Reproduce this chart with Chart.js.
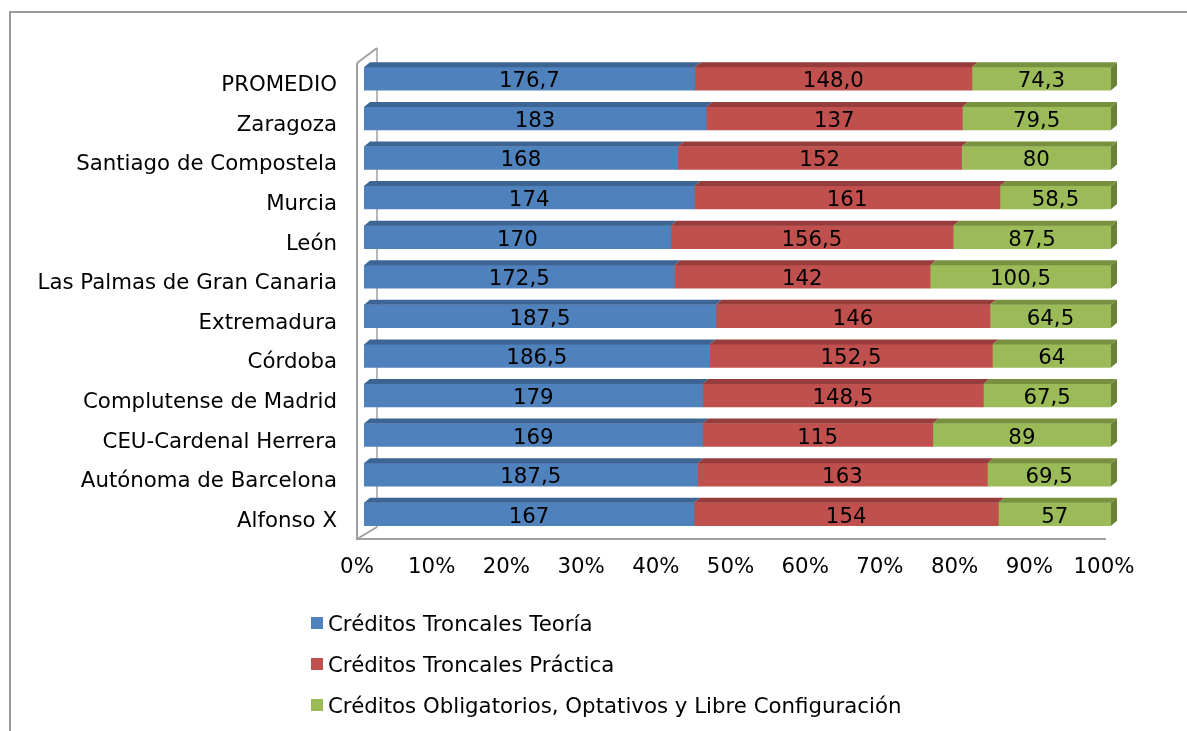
<!DOCTYPE html>
<html>
<head>
<meta charset="utf-8">
<script src="https://cdn.jsdelivr.net/npm/chart.js@4/dist/chart.umd.min.js"></script>
<style>
  html, body { margin: 0; padding: 0; background: #fff; }
  #wrap { position: relative; width: 1187px; height: 731px; overflow: hidden; }
  #frame { position: absolute; left: 9px; top: 11px; width: 1300px; height: 800px;
           border-left: 2px solid #9a9a9a; border-top: 2px solid #9a9a9a; }
  #legend { position: absolute; left: 311px; top: 603px; font: 21.3px "DejaVu Sans", Verdana, sans-serif; color: #000; }
  #legend div { height: 41px; line-height: 41px; white-space: nowrap; }
  #legend span.box { display: inline-block; width: 12px; height: 12px; margin-right: 5px; vertical-align: middle; position: relative; top: -2px; }
</style>
</head>
<body>
<div id="wrap">
  <div id="frame"></div>
  <canvas id="chart" width="1187" height="731"></canvas>
  <div id="legend"></div>
</div>
<script>
// ---- Data ----
const categories = [
  'PROMEDIO', 'Zaragoza', 'Santiago de Compostela', 'Murcia', 'León',
  'Las Palmas de Gran Canaria', 'Extremadura', 'Córdoba', 'Complutense de Madrid',
  'CEU-Cardenal Herrera', 'Autónoma de Barcelona', 'Alfonso X'
];
const teoria       = [176.7, 183, 168, 174, 170, 172.5, 187.5, 186.5, 179, 169, 187.5, 167];
const practica     = [148.0, 137, 152, 161, 156.5, 142, 146, 152.5, 148.5, 115, 163, 154];
const obligatorios = [74.3, 79.5, 80, 58.5, 87.5, 100.5, 64.5, 64, 67.5, 89, 69.5, 57];
const seriesNames = [
  'Créditos Troncales Teoría',
  'Créditos Troncales Práctica',
  'Créditos Obligatorios, Optativos y Libre Configuración'
];
const xTicks = [0, 10, 20, 30, 40, 50, 60, 70, 80, 90, 100];

// ---- Style ----
const FONT = '"DejaVu Sans", Verdana, sans-serif';
const FONT_SIZE = 21.3;
const colors = ['#4F81BD', '#C0504D', '#9BBB59'];
const topColors = ['#3D6594', '#963C3A', '#77913F'];
const sideColors = ['#34567F', '#7E3230', '#6A8238'];
const DX = 6, DY = 5; // 3D depth of the bars

const raw = [teoria, practica, obligatorios];
const totals = categories.map((_, i) => teoria[i] + practica[i] + obligatorios[i]);
const pct = arr => arr.map((v, i) => v / totals[i] * 100);

function fmt(v, i) {
  // PROMEDIO shows one fixed decimal, others as-is
  const s = categories[i] === 'PROMEDIO' ? v.toFixed(1) : String(v);
  return s.replace('.', ',');
}

// ---- Plugins ----

// Walls/floor outline of the 3D plot
const wallsPlugin = {
  id: 'walls',
  beforeDatasetsDraw(chart) {
    const { ctx, chartArea: a } = chart;
    const fl = a.left - 7, bl = fl + 20;
    const fy = a.bottom + 5, by = fy - 12;
    const ty = a.top + 4, bty = ty - 15;
    ctx.save();
    ctx.strokeStyle = '#a0a0a0';
    ctx.lineWidth = 2;
    ctx.beginPath();
    ctx.moveTo(fl, ty); ctx.lineTo(fl, fy); ctx.lineTo(a.right - 5, fy);
    ctx.moveTo(fl, ty); ctx.lineTo(bl, bty);
    ctx.moveTo(fl, fy); ctx.lineTo(bl, by);
    ctx.stroke();
    ctx.lineWidth = 1.5;
    ctx.beginPath();
    ctx.moveTo(bl, bty); ctx.lineTo(bl, by);
    ctx.stroke();
    ctx.restore();
  }
};

// Top and side faces of each bar, then the value labels
const bar3dPlugin = {
  id: 'bar3d',
  afterDatasetsDraw(chart) {
    const { ctx } = chart;
    ctx.save();
    chart.data.datasets.forEach((ds, di) => {
      const meta = chart.getDatasetMeta(di);
      meta.data.forEach(bar => {
        const x0 = bar.base, x1 = bar.x, top = bar.y - bar.height / 2, bot = bar.y + bar.height / 2;
        ctx.fillStyle = topColors[di];
        ctx.beginPath();
        ctx.moveTo(x0, top); ctx.lineTo(x0 + DX, top - DY);
        ctx.lineTo(x1 + DX, top - DY); ctx.lineTo(x1, top);
        ctx.closePath(); ctx.fill();
        if (di === chart.data.datasets.length - 1) {
          ctx.fillStyle = sideColors[di];
          ctx.beginPath();
          ctx.moveTo(x1, top); ctx.lineTo(x1 + DX, top - DY);
          ctx.lineTo(x1 + DX, bot - DY); ctx.lineTo(x1, bot);
          ctx.closePath(); ctx.fill();
        }
      });
    });
    ctx.fillStyle = '#000';
    ctx.font = FONT_SIZE + 'px ' + FONT;
    ctx.textAlign = 'center';
    ctx.textBaseline = 'middle';
    chart.data.datasets.forEach((ds, di) => {
      chart.getDatasetMeta(di).data.forEach((bar, i) => {
        ctx.fillText(fmt(raw[di][i], i), (bar.base + bar.x) / 2, bar.y + 3);
      });
    });
    ctx.restore();
  }
};

// ---- Chart ----

new Chart(document.getElementById('chart'), {
  type: 'bar',
  data: {
    labels: categories,
    datasets: raw.map((arr, di) => ({
      label: seriesNames[di],
      data: pct(arr),
      backgroundColor: colors[di],
      borderWidth: 0,
      barThickness: 23,
    })),
  },
  options: {
    indexAxis: 'y',
    responsive: false,
    animation: false,
    layout: { padding: { left: 0, right: 76, top: 59, bottom: 147 } },
    plugins: { legend: { display: false }, tooltip: { enabled: false } },
    scales: {
      x: {
        stacked: true,
        min: 0, max: 100,
        afterBuildTicks: s => { s.ticks = xTicks.map(v => ({ value: v })); },
        afterFit: s => { s.height = 50; },
        grid: { display: false },
        border: { display: false },
        ticks: {
          color: '#000', font: { family: FONT, size: FONT_SIZE },
          padding: 13, labelOffset: -7, maxRotation: 0, autoSkip: false,
          callback: v => v + '%',
        },
      },
      y: {
        stacked: true,
        afterFit: s => { s.width = 364; },
        grid: { display: false },
        border: { display: false },
        ticks: {
          color: '#000', font: { family: FONT, size: FONT_SIZE },
          padding: 19, labelOffset: 7, autoSkip: false,
        },
      },
    },
  },
  plugins: [wallsPlugin, bar3dPlugin],
});

// Legend: one series per line, as in the source
document.getElementById('legend').innerHTML = seriesNames.map((n, i) =>
  `<div><span class="box" style="background:${colors[i]}"></span>${n}</div>`).join('');
</script>
</body>
</html>
